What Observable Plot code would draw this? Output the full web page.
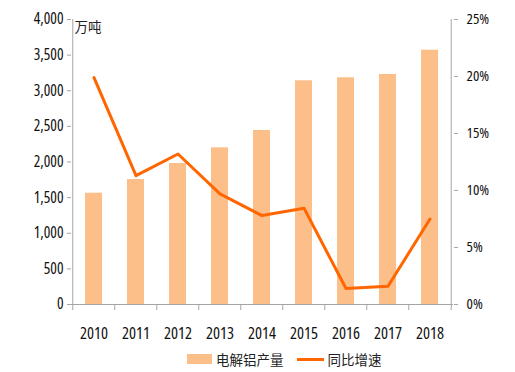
<!DOCTYPE html>
<html><head><meta charset="utf-8">
<script src="https://cdn.jsdelivr.net/npm/d3@7"></script>
<script src="https://cdn.jsdelivr.net/npm/@observablehq/plot@0.6"></script>
<style>
body{margin:0;background:#fff;}
#chart{position:relative;width:515px;height:372px;background:#fff;}
#chart svg g[aria-label="y-axis tick label"] text, #chart svg g[aria-label="x-axis tick label"] text{font-stretch:80%;}
#legend{position:absolute;left:187px;top:349px;display:flex;align-items:center;font-family:"Noto Sans CJK SC",sans-serif;font-size:13.5px;color:#222;white-space:nowrap;}
.sw-bar{width:25px;height:10px;background:#FDBF8A;margin-right:4px;}
.sw-line{width:27px;height:3px;background:#FF6600;margin-left:13px;margin-right:4px;}
</style></head><body><div id="chart"></div>
<script>
const years = ["2010","2011","2012","2013","2014","2015","2016","2017","2018"];
const output = [1562,1754,1979,2199,2442,3140,3182,3228,3569];
const growth = [19.9,11.3,13.2,9.7,7.8,8.45,1.4,1.6,7.5];
const leftTicks = [0,500,1000,1500,2000,2500,3000,3500,4000];
const rightTicks = [0,5,10,15,20,25];
const unitLabel = "万吨";
const seriesNames = ["电解铝产量","同比增速"];

const data = years.map((y,i)=>({year:y, output:output[i], growth:growth[i]}));
const y2 = d3.scaleLinear([0,25],[0,4000]);
const W=515,H=345,mL=71,mR=62,mT=19,mB=41;
const step=(W-mL-mR)/years.length;
const axisColor="#A6A6A6";
const numFont="'Open Sans',Lato,sans-serif";

const plot = Plot.plot({
  width:W,height:H,marginLeft:mL,marginRight:mR,marginTop:mT,marginBottom:mB,
  style:{fontFamily:numFont,fontSize:"15px",color:"#111",background:"#fff",overflow:"visible"},
  x:{domain:years,paddingInner:0.59,paddingOuter:0.295,axis:null},
  y:{domain:[0,4000],axis:null},
  marks:[
    Plot.barY(data,{x:"year",y:"output",fill:"#FDBF8A"}),
    Plot.ruleY([0],{stroke:axisColor}),
    Plot.ruleX([years[0]],{dx:-step/2,stroke:axisColor}),
    Plot.ruleX([years[years.length-1]],{dx:step/2,stroke:axisColor}),
    Plot.ruleX(years,{x:d=>d,y1:0,y2:0,dx:-step/2,insetBottom:-6,stroke:axisColor}),
    Plot.ruleX([years[years.length-1]],{y1:0,y2:0,dx:step/2,insetBottom:-6,stroke:axisColor}),
    Plot.lineY(data,{x:"year",y:d=>y2(d.growth),stroke:"#FF6600",strokeWidth:3}),
    Plot.axisY(leftTicks,{anchor:"left",label:null,tickSize:4,tickPadding:4,tickFormat:d3.format(","),stroke:axisColor,fill:"#111",fontSize:15.5}),
    Plot.axisY(rightTicks.map(v=>y2(v)),{anchor:"right",label:null,tickSize:4,tickPadding:9,tickFormat:d=>Math.round(y2.invert(d))+"%",stroke:axisColor,fill:"#111",fontSize:15}),
    Plot.axisX(years,{anchor:"bottom",label:null,tickSize:0,tickPadding:23,fill:"#111",fontSize:16.5}),
    Plot.text([unitLabel],{frameAnchor:"top-left",dx:3,dy:8,textAnchor:"start",lineAnchor:"middle",fontSize:13.5,fontFamily:"'Noto Sans CJK SC',sans-serif",fill:"#222"})
  ]
});
const chart=document.getElementById("chart");
chart.appendChild(plot);
const leg=document.createElement("div");
leg.id="legend";
leg.innerHTML=`<div class="sw-bar"></div><span>${seriesNames[0]}</span><div class="sw-line"></div><span>${seriesNames[1]}</span>`;
chart.appendChild(leg);
</script></body></html>
